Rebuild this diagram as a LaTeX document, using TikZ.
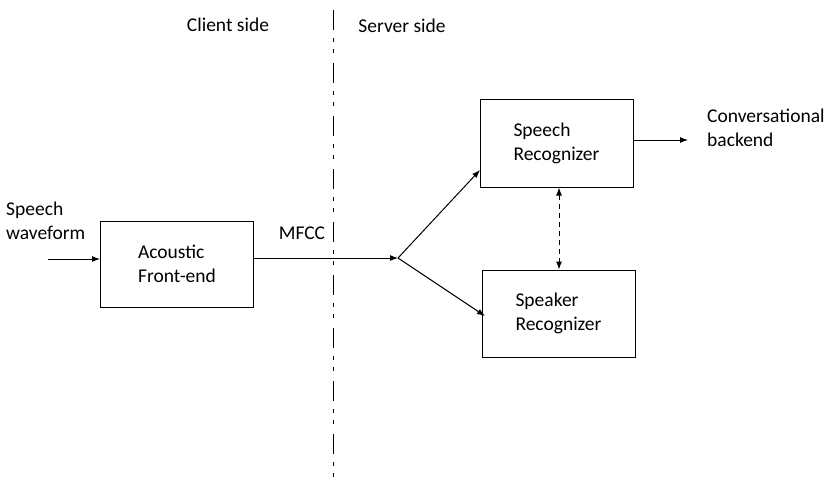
\documentclass[tikz,border=0pt]{standalone}
\usepackage{fontspec}
\setmainfont{Carlito}
\usetikzlibrary{arrows.meta}
\begin{document}
\begin{tikzpicture}[x=1pt,y=-1pt,
  font=\fontsize{19.5}{24}\selectfont,
  tip/.tip={Latex[length=8pt,width=6pt]},
  block/.style={draw,line width=1pt,minimum width=153pt,minimum height=86pt,align=left,inner sep=0pt},
  lbl/.style={inner sep=0pt,align=left},
  flow/.style={line width=1pt,-tip},
  divider/.style={line width=0.9pt,dash pattern=on 20pt off 8pt on 4pt off 7pt on 4pt off 10pt}]
  \useasboundingbox (0,0) rectangle (838,482);

  % client/server divider
  \coordinate (dtop) at (333,10);
  \coordinate (dbot) at (333,482);
  \draw[divider] (dtop) -- (dbot);
  \node[lbl] (client) at (228,25) {Client side};
  \node[lbl] (server) at (402,26) {Server side};

  % blocks
  \node[block] (acoustic) at (177,264) {Acoustic\\Front-end};
  \node[block,minimum height=88pt] (speech) at (556.5,143) {Speech\\Recognizer};
  \node[block,minimum height=87pt] (speaker) at (558.5,313.5) {Speaker\\Recognizer};

  % input
  \coordinate (in) at (48,259);
  \node[lbl,anchor=north west] (wave) at (6,202) {Speech\\waveform};
  \draw[flow] (in) -- (in -| acoustic.west);

  % feature stream to the splitting point
  \coordinate (j) at (398,258);
  \node[lbl] (mfcc) at (302,233) {MFCC};
  \draw[flow] (acoustic.east |- j) -- (j);
  \coordinate (sr) at (480,170);
  \coordinate (sk) at (485,316);
  \draw[flow] (j) -- (sr);
  \draw[flow] (j) -- (sk);

  % link between the recognizers
  \draw[line width=1pt,dash pattern=on 5pt off 4pt,tip-tip]
    (559,0 |- speech.south) -- (559,0 |- speaker.north);

  % output
  \coordinate (out) at (688,140);
  \draw[flow] (speech.east |- out) -- (out);
  \node[lbl,anchor=north west] (backend) at (707,109) {Conversational\\backend};
\end{tikzpicture}
\end{document}
